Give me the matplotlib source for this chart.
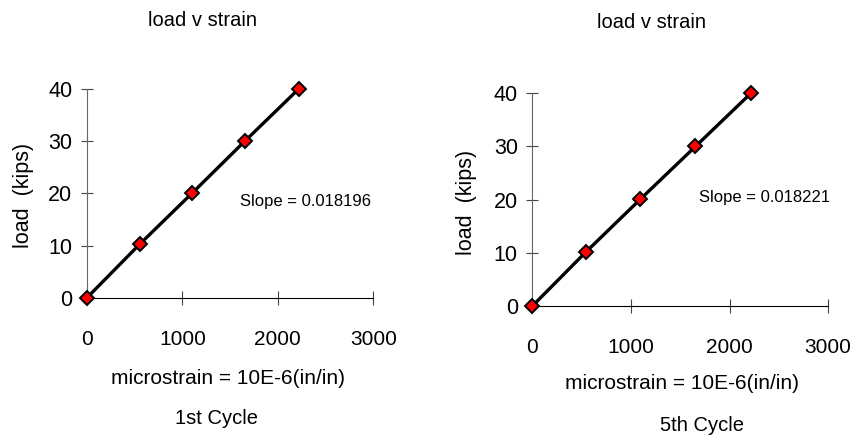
import numpy as np
import matplotlib
matplotlib.use("Agg")
import matplotlib.pyplot as plt

plt.rcParams['font.family'] = ['Liberation Sans', 'DejaVu Sans']

# cycle 1 and cycle 5 readings
strain_1 = [0, 555, 1100, 1655, 2220]
load_1 = [0, 10.3, 20, 30, 40]
strain_5 = [0, 540, 1096, 1654, 2216]
load_5 = [0, 10.1, 20.1, 30, 40]

slopes = ['Slope = 0.018196', 'Slope = 0.018221']
cycles = ['1st Cycle', '5th Cycle']
xticks = [0, 1000, 2000, 3000]
yticks = [0, 10, 20, 30, 40]

fig = plt.figure(figsize=(8.6, 4.4), dpi=100)
boxes = [[0.101, 0.323, 0.333, 0.475], [0.619, 0.3045, 0.344, 0.4835]]
data = [(strain_1, load_1), (strain_5, load_5)]
slope_pos = [(0.762, 0.46), (0.784, 0.508)]
# figure-fraction spots for the loose labels of each panel
title_pos = [(0.236, 0.954), (0.758, 0.948)]
xlab_pos = [(0.265, 0.139), (0.793, 0.128)]
cyc_pos = [(0.252, 0.050), (0.816, 0.034)]
ylab_pos = [(0.027, 0.555), (0.543, 0.541)]

for i, (box, (xs, ys)) in enumerate(zip(boxes, data)):
    ax = fig.add_axes(box)
    ax.plot(xs, ys, color='black', lw=2.4, zorder=2)
    ax.plot(xs, ys, ls='none', marker='D', ms=7.5, mfc='red', mec='black',
            mew=1.4, zorder=3, clip_on=False)
    ax.set_xlim(0, 3000)
    ax.set_ylim(0, 40)
    ax.set_xticks(xticks)
    ax.set_yticks(yticks)
    for s in ['top', 'right']:
        ax.spines[s].set_visible(False)
    ax.spines['left'].set_color('#666666')
    ax.spines['bottom'].set_color('black')
    ax.tick_params(axis='x', direction='inout', length=10, pad=18,
                   labelsize=15, color='#444444')
    ax.tick_params(axis='y', direction='inout', length=9, pad=6,
                   labelsize=15.5, color='#444444')
    ax.text(slope_pos[i][0], slope_pos[i][1], slopes[i], transform=ax.transAxes,
            ha='center', va='center', fontsize=12)
    fig.text(*title_pos[i], 'load v strain', ha='center', va='center', fontsize=14.5)
    fig.text(*xlab_pos[i], 'microstrain = 10E-6(in/in)', ha='center', va='center',
             fontsize=15)
    fig.text(*cyc_pos[i], cycles[i], ha='center', va='center', fontsize=14.5)
    fig.text(*ylab_pos[i], 'load  (kips)', ha='center', va='center',
             rotation=90, fontsize=15.5)

fig.savefig('out.png', dpi=100)
